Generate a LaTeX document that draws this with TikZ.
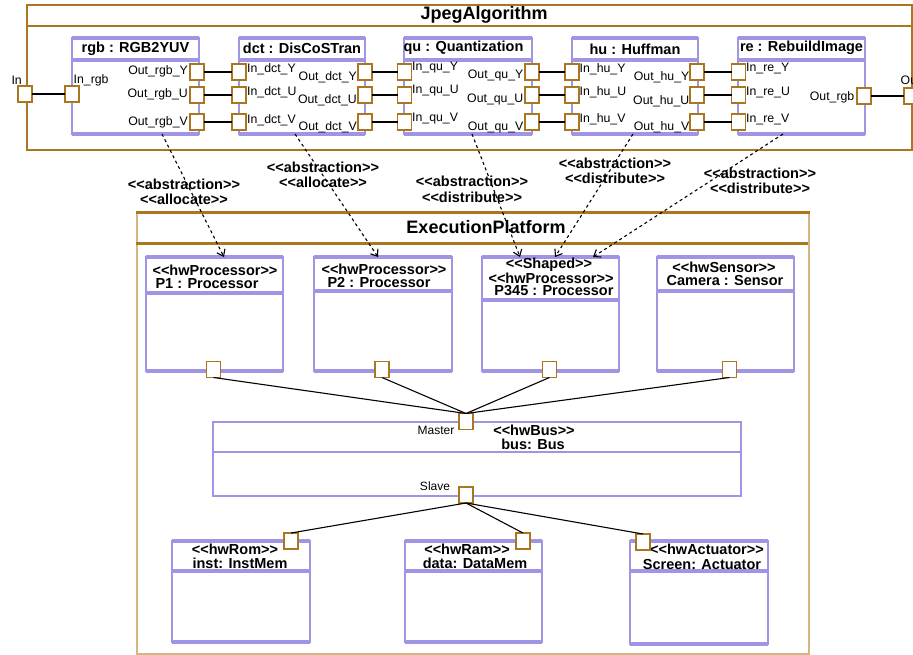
\documentclass[tikz,border=0pt]{standalone}
\usepackage{fontspec}
\setmainfont{Liberation Sans}
\usetikzlibrary{positioning,arrows.meta}
\definecolor{gold}{RGB}{170,118,32}
\definecolor{lightgold}{RGB}{212,182,130}
\definecolor{lav}{RGB}{160,148,228}
\newcommand{\stype}[1]{<\kern0pt<#1>\kern0pt>}

\begin{document}
\begin{tikzpicture}[x=1pt, y=-1pt,
		port/.style = {draw=gold, fill=white, line width=1.6pt,
			minimum width=14pt, minimum height=16pt,
			inner sep=0pt, outer sep=0pt},
		part/.style = {draw=lav, line width=1.4pt, inner sep=0pt,
			outer sep=0pt, anchor=north west},
		partedge/.style = {draw=lav, line width=3.2pt},
		hdr/.style = {font=\fontsize{14.5}{13.5}\selectfont\bfseries,
			align=center, inner sep=0pt},
		stlabel/.style = {font=\fontsize{14.5}{15.5}\selectfont\bfseries,
			align=center, inner sep=0pt},
		boxtitle/.style = {font=\fontsize{18}{20}\selectfont\bfseries, inner sep=0pt},
		plabel/.style = {font=\fontsize{12.3}{14}\selectfont, inner sep=0pt},
		wire/.style = {line width=1.1pt},
		abst/.style = {dashed, line width=1.1pt,
			-{Straight Barb[length=6pt, width=9pt]}}
	]
	\useasboundingbox (0,0) rectangle (913,654);

	% JpegAlgorithm
	\node[draw=gold, line width=2pt, minimum width=885pt, minimum height=145pt,
		anchor=north west, inner sep=0pt] (jpeg) at (26,4) {};
	\draw[gold, line width=2pt] (26,26) -- (911,26);
	\node[boxtitle] (jpegname) at (484,15) {JpegAlgorithm};

	\node[part, minimum width=127pt, minimum height=96pt] (rgb) at (72,38) {};
	\draw[partedge] (rgb.north west) -- (rgb.north east) (72,60) -- (199,60)
		(rgb.south west) -- (rgb.south east);
	\node[hdr] (rgbname) at (135.5,49) {rgb : RGB2YUV};

	\node[part, minimum width=126pt, minimum height=96pt] (dct) at (239,38) {};
	\draw[partedge] (dct.north west) -- (dct.north east) (239,60) -- (365,60)
		(dct.south west) -- (dct.south east);
	\node[hdr] (dctname) at (302,48) {dct : DisCoSTran};

	\node[part, minimum width=128pt, minimum height=96pt] (qu) at (404,38) {};
	\draw[partedge] (qu.north west) -- (qu.north east) (404,60) -- (532,60)
		(qu.south west) -- (qu.south east);
	\node[hdr] (quname) at (463.5,48) {qu : Quantization};

	\node[part, minimum width=126pt, minimum height=96pt] (hu) at (572,38) {};
	\draw[partedge] (hu.north west) -- (hu.north east) (572,60) -- (698,60)
		(hu.south west) -- (hu.south east);
	\node[hdr] (huname) at (635,49) {hu : Huffman};

	\node[part, minimum width=127pt, minimum height=96pt] (re) at (738,38) {};
	\draw[partedge] (re.north west) -- (re.north east) (738,60) -- (865,60)
		(re.south west) -- (re.south east);
	\node[hdr] (rename) at (801.5,48) {re : RebuildImage};

	% ports of the algorithm
	\node[port] (in) at (25,94) {};
	\node[port] (inrgb) at (72,94) {};
	\node[port] (outrgbY) at (197,72) {};
	\node[port] (outrgbU) at (197,95) {};
	\node[port] (outrgbV) at (197,122) {};
	\node[port] (indctY) at (239,72) {};
	\node[port] (indctU) at (239,95) {};
	\node[port] (indctV) at (239,122) {};
	\node[port] (outdctY) at (365,72) {};
	\node[port] (outdctU) at (365,95) {};
	\node[port] (outdctV) at (365,122) {};
	\node[port] (inquY) at (404.5,72) {};
	\node[port] (inquU) at (404.5,95) {};
	\node[port] (inquV) at (404.5,122) {};
	\node[port] (outquY) at (532,72) {};
	\node[port] (outquU) at (532,95) {};
	\node[port] (outquV) at (532,122) {};
	\node[port] (inhuY) at (572,72) {};
	\node[port] (inhuU) at (572,95) {};
	\node[port] (inhuV) at (572,122) {};
	\node[port] (outhuY) at (697,72) {};
	\node[port] (outhuU) at (697,95) {};
	\node[port] (outhuV) at (697,122) {};
	\node[port] (inreY) at (738.5,72) {};
	\node[port] (inreU) at (738.5,95) {};
	\node[port] (inreV) at (738.5,122) {};
	\node[port] (outrgb) at (864,96) {};
	\node[port] (out) at (911,96) {};

	\node[plabel, anchor=east] (inlbl) at (22,80) {In};
	\node[plabel, anchor=west] (inrgblbl) at (73.5,80) {In\_rgb};
	\node[plabel, anchor=east] (outrgbYlbl) at (188,71) {Out\_rgb\_Y};
	\node[plabel, anchor=east] (outrgbUlbl) at (188,94) {Out\_rgb\_U};
	\node[plabel, anchor=east] (outrgbVlbl) at (188,122.5) {Out\_rgb\_V};
	\node[plabel, anchor=west] (indctYlbl) at (247,69) {In\_dct\_Y};
	\node[plabel, anchor=west] (indctUlbl) at (247,92) {In\_dct\_U};
	\node[plabel, anchor=west] (indctVlbl) at (247,120) {In\_dct\_V};
	\node[plabel, anchor=east] (outdctYlbl) at (357,77) {Out\_dct\_Y};
	\node[plabel, anchor=east] (outdctUlbl) at (357,100) {Out\_dct\_U};
	\node[plabel, anchor=east] (outdctVlbl) at (357,127.5) {Out\_dct\_V};
	\node[plabel, anchor=west] (inquYlbl) at (412,67.5) {In\_qu\_Y};
	\node[plabel, anchor=west] (inquUlbl) at (412,91) {In\_qu\_U};
	\node[plabel, anchor=west] (inquVlbl) at (412,118.5) {In\_qu\_V};
	\node[plabel, anchor=east] (outquYlbl) at (523.5,75) {Out\_qu\_Y};
	\node[plabel, anchor=east] (outquUlbl) at (523.5,99) {Out\_qu\_U};
	\node[plabel, anchor=east] (outquVlbl) at (523.5,127) {Out\_qu\_V};
	\node[plabel, anchor=west] (inhuYlbl) at (579.5,69) {In\_hu\_Y};
	\node[plabel, anchor=west] (inhuUlbl) at (579.5,92) {In\_hu\_U};
	\node[plabel, anchor=west] (inhuVlbl) at (579.5,119) {In\_hu\_V};
	\node[plabel, anchor=east] (outhuYlbl) at (689.5,77) {Out\_hu\_Y};
	\node[plabel, anchor=east] (outhuUlbl) at (689.5,101) {Out\_hu\_U};
	\node[plabel, anchor=east] (outhuVlbl) at (689.5,127.5) {Out\_hu\_V};
	\node[plabel, anchor=west] (inreYlbl) at (746,68.5) {In\_re\_Y};
	\node[plabel, anchor=west] (inreUlbl) at (746,92) {In\_re\_U};
	\node[plabel, anchor=west] (inreVlbl) at (746,119) {In\_re\_V};
	\node[plabel, anchor=east] (outrgblbl) at (854.5,97.5) {Out\_rgb};
	\node[plabel, anchor=west] (outlbl) at (900.5,80) {Out};

	\draw[wire] (in) -- (inrgb);
	\draw[wire] (outrgbY) -- (indctY);
	\draw[wire] (outrgbU) -- (indctU);
	\draw[wire] (outrgbV) -- (indctV);
	\draw[wire] (outdctY) -- (inquY);
	\draw[wire] (outdctU) -- (inquU);
	\draw[wire] (outdctV) -- (inquV);
	\draw[wire] (outquY) -- (inhuY);
	\draw[wire] (outquU) -- (inhuU);
	\draw[wire] (outquV) -- (inhuV);
	\draw[wire] (outhuY) -- (inreY);
	\draw[wire] (outhuU) -- (inreU);
	\draw[wire] (outhuV) -- (inreV);
	\draw[wire] (outrgb) -- (out);

	% ExecutionPlatform
	\node[draw=lightgold, line width=2pt, minimum width=672pt, minimum height=441pt,
		anchor=north west, inner sep=0pt] (exec) at (136,212) {};
	\draw[gold, line width=3pt] (exec.north west) -- (exec.north east)
		(136,243) -- (808,243);
	\node[boxtitle] (execname) at (486,227) {ExecutionPlatform};

	\node[part, minimum width=137pt, minimum height=114pt] (p1) at (146,257) {};
	\draw[partedge] (p1.north west) -- (p1.north east) (146,293) -- (283,293)
		(p1.south west) -- (p1.south east);
	\node[hdr] (p1st) at (215,270) {\stype{hwProcessor}};
	\node[hdr] (p1name) at (207,284) {P1 : Processor};

	\node[part, minimum width=138pt, minimum height=114pt] (p2) at (314,257) {};
	\draw[partedge] (p2.north west) -- (p2.north east) (314,291) -- (452,291)
		(p2.south west) -- (p2.south east);
	\node[hdr] (p2st) at (384,269) {\stype{hwProcessor}};
	\node[hdr] (p2name) at (379,283) {P2 : Processor};

	\node[part, minimum width=137pt, minimum height=114pt] (p345) at (482,257) {};
	\draw[partedge] (p345.north west) -- (p345.north east) (482,300) -- (619,300)
		(p345.south west) -- (p345.south east);
	\node[hdr] (p345shp) at (549,265) {\stype{Shaped}};
	\node[hdr] (p345st) at (551,278) {\stype{hwProcessor}};
	\node[hdr] (p345name) at (554,291) {P345 : Processor};

	\node[part, minimum width=137pt, minimum height=114pt] (cam) at (657,257) {};
	\draw[partedge] (cam.north west) -- (cam.north east) (657,291) -- (794,291)
		(cam.south west) -- (cam.south east);
	\node[hdr] (camst) at (724,267) {\stype{hwSensor}};
	\node[hdr] (camname) at (725,281) {Camera : Sensor};

	\node[part, line width=1.8pt, minimum width=528pt, minimum height=74pt] (bus) at (213,422) {};
	\draw[lav, line width=1.8pt] (213,452) -- (741,452);
	\node[hdr] (busst) at (534,430) {\stype{hwBus}};
	\node[hdr] (busname) at (533,444) {bus: Bus};

	\node[part, minimum width=138pt, minimum height=101pt] (inst) at (172,541) {};
	\draw[partedge] (inst.north west) -- (inst.north east) (172,571) -- (310,571)
		(inst.south west) -- (inst.south east);
	\node[hdr] (instst) at (235,549) {\stype{hwRom}};
	\node[hdr] (instname) at (240,563) {inst: InstMem};

	\node[part, minimum width=137pt, minimum height=101pt] (ram) at (405,541) {};
	\draw[partedge] (ram.north west) -- (ram.north east) (405,571) -- (542,571)
		(ram.south west) -- (ram.south east);
	\node[hdr] (ramst) at (467,549) {\stype{hwRam}};
	\node[hdr] (ramname) at (475,563) {data: DataMem};

	\node[part, minimum width=138pt, minimum height=103pt] (act) at (630,541) {};
	\draw[partedge] (act.north west) -- (act.north east) (630,571) -- (768,571)
		(act.south west) -- (act.south east);
	\node[hdr] (actst) at (707,549) {\stype{hwActuator}};
	\node[hdr] (actname) at (702,564) {Screen: Actuator};

	% ports of the platform
	\node[port] (p1port) at (213.5,369.5) {};
	\node[port] (p2port) at (382,369.5) {};
	\node[port] (p345port) at (549.5,369.5) {};
	\node[port] (camport) at (729.5,369.5) {};
	\node[port] (master) at (466,421.5) {};
	\node[port] (slave) at (466,495) {};
	\node[port] (instport) at (291,541) {};
	\node[port] (ramport) at (523,541) {};
	\node[port] (actport) at (643,542) {};
	\node[plabel, font=\fontsize{12}{14}\selectfont] (masterlbl) at (436,430) {Master};
	\node[plabel, font=\fontsize{12}{14}\selectfont] (slavelbl) at (435,486) {Slave};

	\draw[wire] (p1port.south) -- (master.north);
	\draw[wire] (p2port.south) -- (master.north);
	\draw[wire] (p345port.south) -- (master.north);
	\draw[wire] (camport.south) -- (master.north);
	\draw[wire] (slave.south) -- (instport.north);
	\draw[wire] (slave.south) -- (ramport.north);
	\draw[wire] (slave.south) -- (actport.north);

	% allocations
	\draw[abst] ([xshift=26.5pt]rgb.south) -- ([xshift=9.5pt]p1.north);
	\draw[abst] ([xshift=-7pt]dct.south) -- ([xshift=-5pt]p2.north);
	\draw[abst] ([xshift=4pt]qu.south) -- ([xshift=-30.5pt]p345.north);
	\draw[abst] ([xshift=-2pt]hu.south) -- ([xshift=4.5pt]p345.north);
	\draw[abst] ([xshift=-18.5pt]re.south) -- ([xshift=42.5pt]p345.north);
	\node[stlabel] (abs1) at (184,192) {\stype{abstraction}\\\stype{allocate}};
	\node[stlabel] (abs2) at (323,175) {\stype{abstraction}\\\stype{allocate}};
	\node[stlabel] (abs3) at (472,189.5) {\stype{abstraction}\\\stype{distribute}};
	\node[stlabel] (abs4) at (615,171) {\stype{abstraction}\\\stype{distribute}};
	\node[stlabel] (abs5) at (760,181) {\stype{abstraction}\\\stype{distribute}};
\end{tikzpicture}
\end{document}
